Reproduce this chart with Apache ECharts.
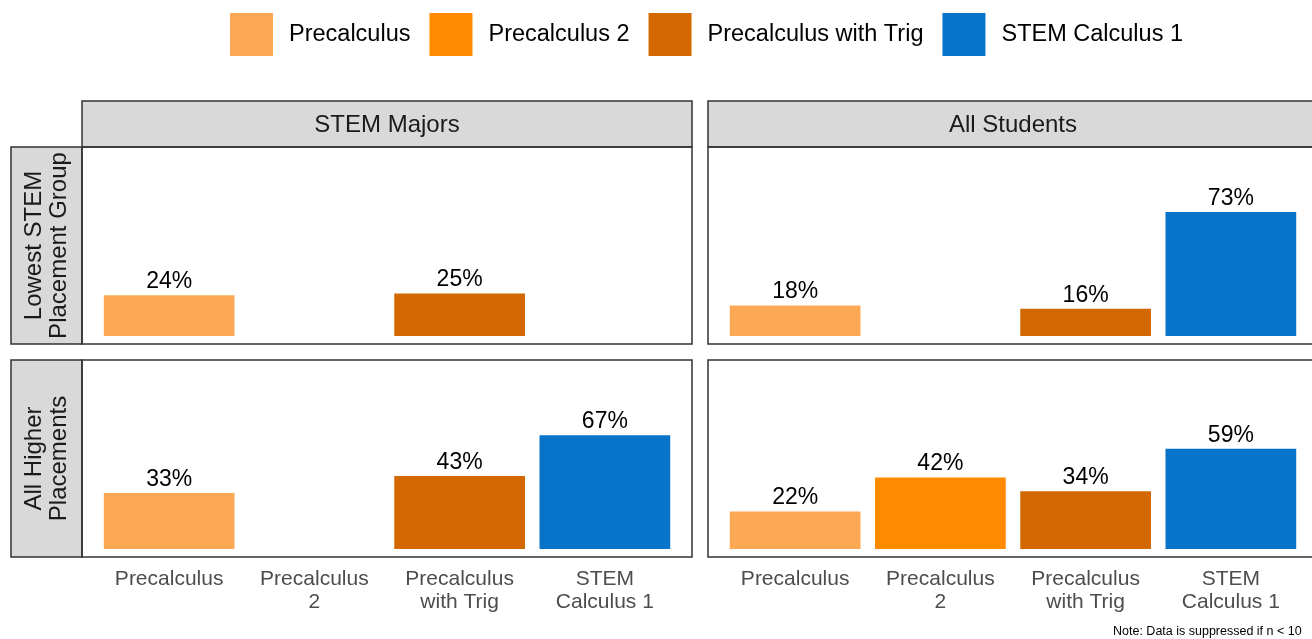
<!DOCTYPE html>
<html>
<head>
<meta charset="utf-8">
<script src="https://cdn.jsdelivr.net/npm/echarts@6/dist/echarts.min.js"></script>
<style>
  html, body { margin: 0; padding: 0; background: #fff; }
  #chart { width: 1312px; height: 639px; }
</style>
</head>
<body>
<div id="chart"></div>
<script>
// courses (legend + bar colours) and x tick labels
const courses = ['Precalculus', 'Precalculus 2', 'Precalculus with Trig', 'STEM Calculus 1'];
const tickLabels = ['Precalculus', 'Precalculus\n2', 'Precalculus\nwith Trig', 'STEM\nCalculus 1'];
const colors = ['#fda855', '#ff8a00', '#d46800', '#0774c9'];

// facet labels
const colStrips = ['STEM Majors', 'All Students'];
const rowStrips = ['Lowest STEM\nPlacement Group', 'All Higher\nPlacements'];

// percentages, null = suppressed
const stemLowest = [24, null, 25, null];
const allLowest = [18, null, 16, 73];
const stemHigher = [33, null, 43, 67];
const allHigher = [22, 42, 34, 59];

const panels = [stemLowest, allLowest, stemHigher, allHigher];

const FONT = '"Liberation Sans", Arial, sans-serif';
const panelX = [82, 708];
const panelY = [147, 360];
const panelW = 610, panelH = 197;
const unit = panelW / 4.2; // ggplot style discrete expansion

let grids = [], xAxes = [], yAxes = [], series = [], graphics = [];

panels.forEach((vals, p) => {
  const col = p % 2, row = Math.floor(p / 2);
  grids.push({
    left: panelX[col] + 0.1 * unit,
    top: panelY[row],
    width: 4 * unit,
    height: panelH
  });
  xAxes.push({
    gridIndex: p,
    type: 'category',
    data: tickLabels,
    axisLine: { show: false, onZero: false },
    axisTick: { show: false },
    axisLabel: {
      show: row === 1,
      color: '#4d4d4d',
      fontSize: 21,
      lineHeight: 23,
      fontFamily: FONT,
      margin: 11
    }
  });
  yAxes.push({
    gridIndex: p,
    type: 'value',
    min: -4.7,
    max: 111.2,
    show: false,
    splitLine: { show: false }
  });
  courses.forEach((c, j) => {
    series.push({
      name: c,
      type: 'bar',
      xAxisIndex: p,
      yAxisIndex: p,
      stack: 'p' + p,
      barWidth: '90%',
      itemStyle: { color: colors[j] },
      label: {
        show: true,
        position: 'top',
        distance: 2,
        formatter: '{c}%',
        color: '#000',
        fontSize: 23,
        fontFamily: FONT
      },
      data: vals.map((v, i) => (i === j && v != null) ? v : '-')
    });
  });
  // panel border
  graphics.push({
    type: 'rect',
    shape: { x: panelX[col], y: panelY[row], width: panelW, height: panelH },
    style: { fill: null, stroke: '#333', lineWidth: 1.5 },
    z: 10
  });
});

// column strips
colStrips.forEach((t, i) => {
  graphics.push({
    type: 'rect',
    shape: { x: panelX[i], y: 101, width: panelW, height: 46 },
    style: { fill: '#d9d9d9', stroke: '#333', lineWidth: 1.5 }
  });
  graphics.push({
    type: 'text',
    x: panelX[i] + panelW / 2,
    y: 125,
    style: { text: t, fill: '#1a1a1a', fontSize: 24, fontFamily: FONT, align: 'center', verticalAlign: 'middle' }
  });
});

// row strips
rowStrips.forEach((t, i) => {
  graphics.push({
    type: 'rect',
    shape: { x: 11, y: panelY[i], width: 71, height: panelH },
    style: { fill: '#d9d9d9', stroke: '#333', lineWidth: 1.5 }
  });
  graphics.push({
    type: 'text',
    x: 47,
    y: panelY[i] + panelH / 2,
    rotation: Math.PI / 2,
    style: { text: t, fill: '#1a1a1a', fontSize: 24, lineHeight: 25, fontFamily: FONT, align: 'center', verticalAlign: 'middle' }
  });
});

graphics.push({
  type: 'text',
  x: 1113,
  y: 632,
  style: { text: 'Note: Data is suppressed if n < 10', fill: '#000', fontSize: 12.5, fontFamily: FONT, align: 'left', verticalAlign: 'middle' }
});

const chart = echarts.init(document.getElementById('chart'));
chart.setOption({
  animation: false,
  backgroundColor: '#fff',
  legend: {
    data: courses,
    left: 230,
    top: 13,
    padding: 0,
    icon: 'rect',
    itemWidth: 43,
    itemHeight: 43,
    itemGap: 19,
    selectedMode: false,
    textStyle: { fontSize: 23.5, color: '#000', fontFamily: FONT, padding: [0, 0, 0, 11] }
  },
  grid: grids,
  xAxis: xAxes,
  yAxis: yAxes,
  series: series,
  graphic: graphics
});
</script>
</body>
</html>
